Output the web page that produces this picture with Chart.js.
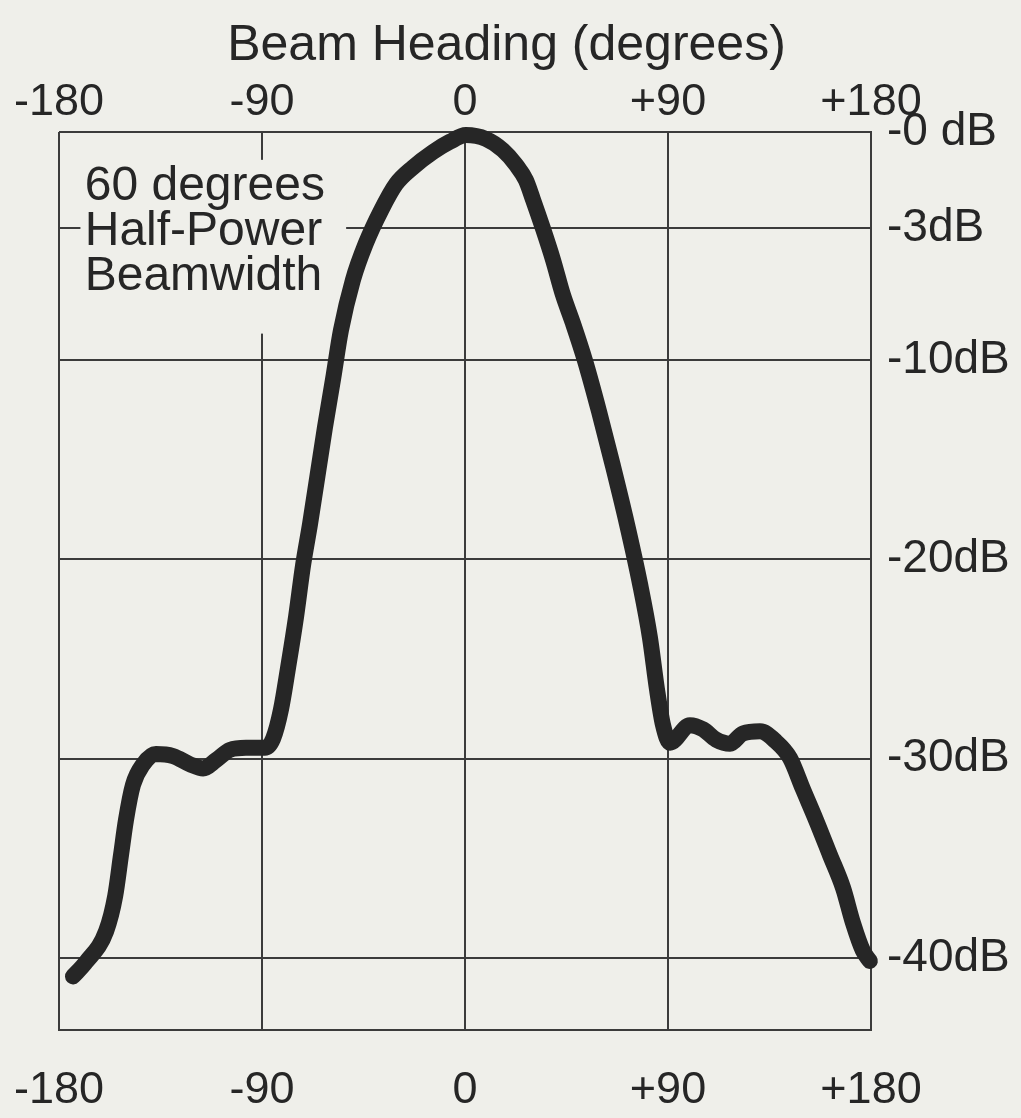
<!DOCTYPE html>
<html>
<head>
<meta charset="utf-8">
<script src="https://cdn.jsdelivr.net/npm/chart.js@4.4.1/dist/chart.umd.min.js"></script>
<style>
html,body{margin:0;padding:0;background:#efefea;}
#wrap{width:1021px;height:1118px;position:relative;}
</style>
</head>
<body>
<div id="wrap"><canvas id="c" width="1021" height="1118"></canvas></div>
<script>
// ---- data ----
const headings = [-173.8,-168.0,-159.1,-155.1,-152.5,-150.3,-147.2,-142.7,-137.0,-129.4,-121.9,-116.1,-110.4,-104.2,-97.1,-88.7,-85.1,-81.6,-78.5,-74.9,-71.8,-68.7,-62.1,-58.5,-55.0,-49.7,-43.9,-37.2,-30.6,-23.1,-14.2,-6.65,0.4,9.3,16.8,22.6,27.0,30.1,34.6,39.0,43.4,47.9,53.2,59.4,65.6,71.8,77.6,82.0,85.1,87.8,90.9,99.7,105.5,111.3,117.5,123.2,130.8,137.9,144.1,149.8,155.6,161.8,167.6,172.0,176.4,179.5];
const gainDb   = [-41.0,-40.3,-38.8,-37.1,-35.1,-33.4,-31.7,-30.7,-30.2,-30.3,-30.7,-30.9,-30.5,-30.0,-29.9,-29.9,-29.46,-28.05,-26.05,-23.54,-21.04,-19.03,-14.35,-12.0,-9.63,-7.19,-5.39,-3.8,-2.53,-1.72,-0.97,-0.47,-0.15,-0.34,-0.88,-1.59,-2.34,-3.27,-4.7,-6.2,-7.9,-9.3,-11.1,-13.56,-16.22,-19.03,-21.94,-24.55,-27.05,-28.8,-29.65,-28.8,-29.0,-29.5,-29.7,-29.2,-29.1,-29.6,-30.4,-31.9,-33.4,-35.1,-36.7,-38.4,-39.75,-40.25];
const xTickValues = [-180,-90,0,90,180];
const xTickLabels = ['-180','-90','0','+90','+180'];
const yTickValues = [0,-3,-10,-20,-30,-40];
const yTickLabels = ['-0 dB','-3dB','-10dB','-20dB','-30dB','-40dB'];
const titleText = 'Beam Heading (degrees)';
const noteLines = ['60 degrees','Half-Power','Beamwidth'];

// ---- styling / layout constants ----
const BG = '#efefea';
const INK = '#262626';
const GRID = '#3b3b3b';
const FONT = '"Liberation Sans", Arial, Helvetica, sans-serif';
// non-uniform dB axis: [value, fraction of plot height from bottom]
const yAxisBreaks = [[-43.6, 0], [-10, 0.7461], [-3, 0.8931], [0, 1]];
const noteBox = {x0: -170.5, x1: -52.7, y0: -0.87, y1: -8.6};
const noteAnchor = {x: -168.6, y: -2.12, lineStep: 45};

function valueToDecimal(v) {
  const b = yAxisBreaks;
  let i = 0;
  while (i < b.length - 2 && v > b[i + 1][0]) i++;
  const [v0, d0] = b[i], [v1, d1] = b[i + 1];
  return d0 + (v - v0) * (d1 - d0) / (v1 - v0);
}
function decimalToValue(d) {
  const b = yAxisBreaks;
  let i = 0;
  while (i < b.length - 2 && d > b[i + 1][1]) i++;
  const [v0, d0] = b[i], [v1, d1] = b[i + 1];
  return v0 + (d - d0) * (v1 - v0) / (d1 - d0);
}

class SegmentedScale extends Chart.LinearScale {
  getPixelForValue(value) {
    if (value === null || value === undefined || isNaN(value)) return NaN;
    return this.getPixelForDecimal(valueToDecimal(value));
  }
  getValueForPixel(pixel) {
    return decimalToValue(this.getDecimalForPixel(pixel));
  }
}
SegmentedScale.id = 'segmented';
Chart.register(SegmentedScale);

const bgPlugin = {
  id: 'bg',
  beforeDraw(chart) {
    const ctx = chart.ctx;
    ctx.save();
    ctx.fillStyle = BG;
    ctx.fillRect(0, 0, chart.width, chart.height);
    ctx.restore();
  }
};

const notePlugin = {
  id: 'note',
  beforeDatasetsDraw(chart) {
    const {ctx, scales: {x, y}} = chart;
    const l = x.getPixelForValue(noteBox.x0), r = x.getPixelForValue(noteBox.x1);
    const t = y.getPixelForValue(noteBox.y0), b = y.getPixelForValue(noteBox.y1);
    ctx.save();
    ctx.fillStyle = BG;
    ctx.fillRect(l, t, r - l, b - t);
    ctx.fillStyle = INK;
    ctx.font = '48px ' + FONT;
    ctx.textBaseline = 'alphabetic';
    ctx.textAlign = 'left';
    const tx = x.getPixelForValue(noteAnchor.x);
    const ty = y.getPixelForValue(noteAnchor.y);
    noteLines.forEach((s, i) => ctx.fillText(s, tx, ty + i * noteAnchor.lineStep));
    ctx.restore();
  }
};

const setXTicks = (scale) => { scale.ticks = xTickValues.map(v => ({value: v})); };
const xLabel = (v) => xTickLabels[xTickValues.indexOf(v)];

new Chart(document.getElementById('c'), {
  type: 'line',
  data: {
    datasets: [{
      data: headings.map((h, i) => ({x: h, y: gainDb[i]})),
      borderColor: INK,
      borderWidth: 16,
      borderCapStyle: 'round',
      borderJoinStyle: 'round',
      pointRadius: 0,
      cubicInterpolationMode: 'monotone',
      fill: false,
      clip: false
    }]
  },
  options: {
    responsive: false,
    animation: false,
    devicePixelRatio: 1,
    layout: {padding: {left: 0, right: 8, top: 0, bottom: 0}},
    plugins: {
      legend: {display: false},
      tooltip: {enabled: false},
      title: {
        display: true,
        text: titleText,
        color: INK,
        font: {family: FONT, size: 50, weight: 'normal'},
        padding: {top: 16, bottom: 0}
      }
    },
    scales: {
      x: {
        type: 'linear',
        position: 'bottom',
        min: -180, max: 180,
        afterBuildTicks: setXTicks,
        ticks: {callback: xLabel, color: INK, font: {family: FONT, size: 45}, padding: 0, maxRotation: 0, autoSkip: false},
        grid: {color: GRID, lineWidth: 2, drawTicks: true, tickLength: 34, tickColor: 'rgba(0,0,0,0)'},
        border: {display: true, color: GRID, width: 2}
      },
      xTop: {
        type: 'linear',
        position: 'top',
        min: -180, max: 180,
        afterBuildTicks: setXTicks,
        ticks: {callback: xLabel, color: INK, font: {family: FONT, size: 45}, padding: 0, maxRotation: 0, autoSkip: false},
        grid: {display: false, drawTicks: true, tickLength: 2, tickColor: 'rgba(0,0,0,0)'},
        border: {display: false}
      },
      yLeft: {
        type: 'linear',
        position: 'left',
        min: -43.6, max: 0,
        ticks: {display: false},
        grid: {display: false, drawTicks: false},
        border: {display: false},
        afterFit: (scale) => { scale.width = 59; }
      },
      y: {
        type: 'segmented',
        position: 'right',
        min: -43.6, max: 0,
        afterBuildTicks: (scale) => { scale.ticks = yTickValues.map(v => ({value: v})); },
        afterFit: (scale) => { scale.width = 142; },
        ticks: {
          callback: (v) => yTickLabels[yTickValues.indexOf(v)],
          color: INK, font: {family: FONT, size: 46}, padding: 16, autoSkip: false
        },
        grid: {color: GRID, lineWidth: 2, drawTicks: false},
        border: {display: true, color: GRID, width: 2}
      }
    }
  },
  plugins: [bgPlugin, notePlugin]
});
</script>
</body>
</html>
